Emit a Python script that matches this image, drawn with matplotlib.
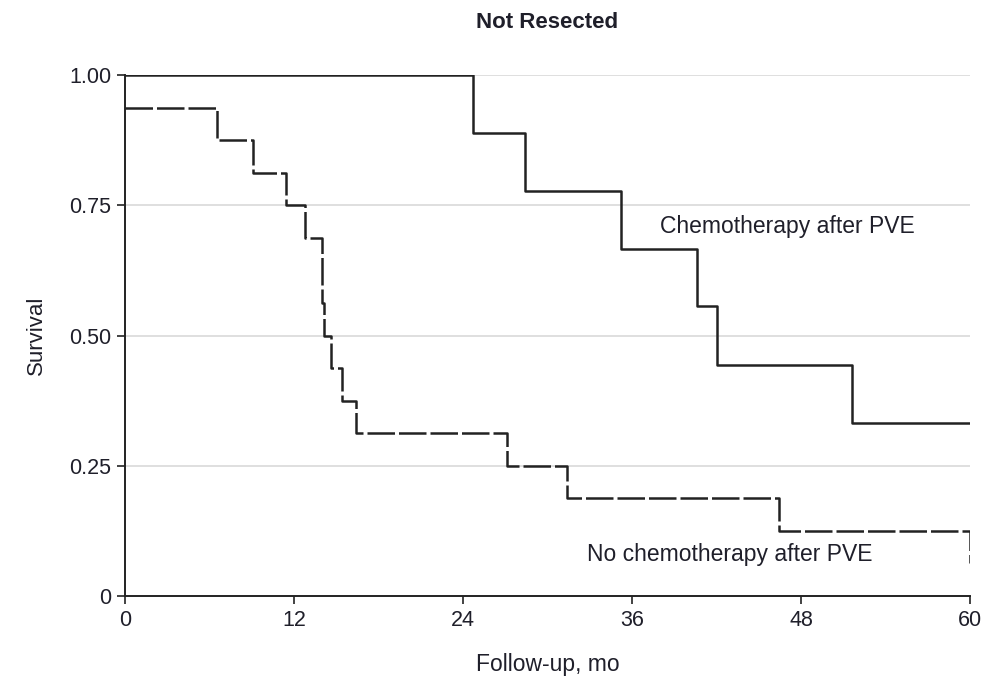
import matplotlib

matplotlib.use("Agg")
import matplotlib.pyplot as plt
from matplotlib import font_manager

# Kaplan-Meier steps (months, survival)
chemo_times = [0, 24.7, 28.4, 35.2, 40.6, 42.0, 51.6, 60]
chemo_surv = [1.0, 0.889, 0.778, 0.667, 0.556, 0.444, 0.333, 0.333]

nochemo_times = [0, 6.5, 9.1, 11.4, 12.8, 14.0, 14.15, 14.6, 15.4, 16.4, 27.1, 31.4, 46.4, 60, 60]
nochemo_surv = [0.9375, 0.875, 0.8125, 0.75, 0.6875, 0.5625, 0.5, 0.4375, 0.375, 0.3125, 0.25, 0.1875, 0.125, 0.0625, 0.0625]

x_ticks = [0, 12, 24, 36, 48, 60]
y_ticks = [0, 0.25, 0.50, 0.75, 1.00]
y_tick_labels = ["0", "0.25", "0.50", "0.75", "1.00"]

names = {f.name for f in font_manager.fontManager.ttflist}
family = "Liberation Sans Narrow" if "Liberation Sans Narrow" in names else "Liberation Sans"
plt.rcParams["font.family"] = [family, "DejaVu Sans"]
text_color = "#1f1f2a"

fig = plt.figure(figsize=(10.01, 6.79), dpi=100)
ax = fig.add_axes([0.1249, 0.1222, 0.8442, 0.7673])

for y in [0.25, 0.5, 0.75, 1.0]:
    ax.axhline(y, color="#d9d9d9", lw=1.2, zorder=0)

ax.step(chemo_times, chemo_surv, where="post", color="#222222", lw=1.8, zorder=3)
ax.step(nochemo_times, nochemo_surv, where="post", color="#222222", lw=1.8,
        dashes=(11, 1.6), zorder=3)

ax.set_xlim(0, 60)
ax.set_ylim(0, 1.0)
ax.set_xticks(x_ticks)
ax.set_yticks(y_ticks)
ax.set_yticklabels(y_tick_labels)
ax.tick_params(axis="both", direction="out", length=6, width=1.2, labelsize=15.5,
               colors="#222222", labelcolor=text_color, pad=4)
for side in ("top", "right"):
    ax.spines[side].set_visible(False)
for side in ("left", "bottom"):
    ax.spines[side].set_linewidth(1.4)
    ax.spines[side].set_color("#222222")

ax.text(38.0, 0.71, "Chemotherapy after PVE", fontsize=16.5, color=text_color, va="center")
ax.text(32.8, 0.08, "No chemotherapy after PVE", fontsize=16.5, color=text_color, va="center")

ax.set_title("Not Resected", fontsize=16, fontweight="bold", color=text_color, pad=34)
ax.set_xlabel("Follow-up, mo", fontsize=16.5, color=text_color, labelpad=16)
ax.set_ylabel("Survival", fontsize=16, color=text_color, labelpad=16)

fig.savefig("out.png", dpi=100)
